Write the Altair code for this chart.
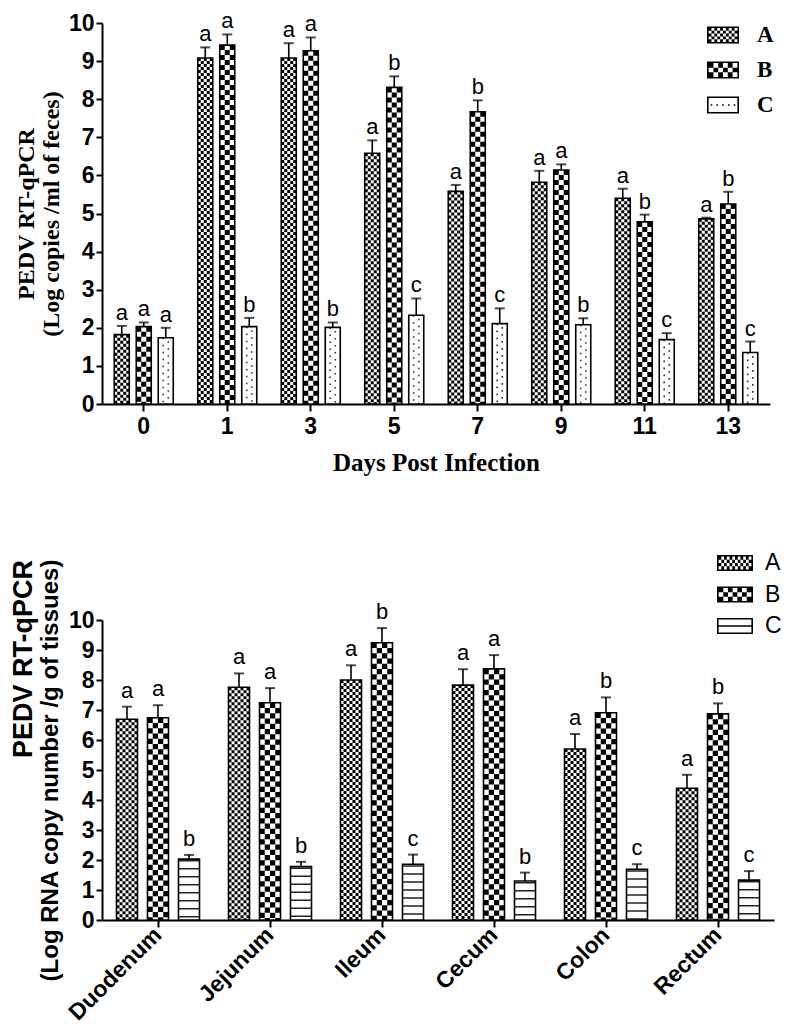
import altair as alt
import pandas as pd

# ---------------- data ----------------
groups = ["A", "B", "C"]

days = ["0", "1", "3", "5", "7", "9", "11", "13"]
feces_mean = {
    "A": [1.82, 9.08, 9.08, 6.58, 5.58, 5.82, 5.40, 4.86],
    "B": [2.03, 9.42, 9.27, 8.31, 7.67, 6.14, 4.78, 5.25],
    "C": [1.74, 2.03, 2.01, 2.33, 2.11, 2.08, 1.69, 1.35],
}
feces_sem = {
    "A": [0.23, 0.28, 0.39, 0.34, 0.17, 0.30, 0.25, 0.03],
    "B": [0.11, 0.28, 0.35, 0.29, 0.30, 0.15, 0.19, 0.32],
    "C": [0.26, 0.23, 0.13, 0.44, 0.40, 0.17, 0.17, 0.29],
}
feces_letters = {
    "A": ["a", "a", "a", "a", "a", "a", "a", "a"],
    "B": ["a", "a", "a", "b", "b", "a", "b", "b"],
    "C": ["a", "b", "b", "c", "c", "b", "c", "c"],
}

tissues = ["Duodenum", "Jejunum", "Ileum", "Cecum", "Colon", "Rectum"]
tissue_mean = {
    "A": [6.69, 7.76, 8.00, 7.83, 5.70, 4.39],
    "B": [6.74, 7.24, 9.24, 8.37, 6.91, 6.87],
    "C": [2.03, 1.78, 1.86, 1.30, 1.69, 1.33],
}
tissue_sem = {
    "A": [0.42, 0.46, 0.49, 0.53, 0.50, 0.45],
    "B": [0.42, 0.49, 0.49, 0.46, 0.51, 0.35],
    "C": [0.14, 0.16, 0.32, 0.28, 0.17, 0.30],
}
tissue_letters = {
    "A": ["a", "a", "a", "a", "a", "a"],
    "B": ["a", "a", "b", "a", "b", "b"],
    "C": ["b", "b", "c", "b", "c", "c"],
}
y_ticks = [0, 1, 2, 3, 4, 5, 6, 7, 8, 9, 10]


def long_df(cats, means, sems, letters):
    rows = []
    for g in groups:
        for c, m, s, l in zip(cats, means[g], sems[g], letters[g]):
            rows.append({"cat": c, "group": g, "mean": m, "top": m + s, "letter": l})
    return pd.DataFrame(rows)


df_top = long_df(days, feces_mean, feces_sem, feces_letters)
df_bot = long_df(tissues, tissue_mean, tissue_sem, tissue_letters)

SANS = "Liberation Sans"
SERIF = "Liberation Serif"


# ---------------- pattern helpers (styles) ----------------
def checker_cols(n, bar_w, color="black"):
    cell = bar_w / n
    return [((i + 0.5) / n, cell, [cell, cell], (i % 2) * cell, color) for i in range(n)]


def f(v):
    return f"{v:.3f}"


def rect(x0, y0, w, h):
    return f"M{f(x0)},{f(y0)}h{f(w)}v{f(h)}h{f(-w)}Z"


def frame(hw, hh, t):
    outer = f"M{f(-hw)},{f(-hh)}H{f(hw)}V{f(hh)}H{f(-hw)}Z"
    inner = f"M{f(-hw + t)},{f(-hh + t)}V{f(hh - t)}H{f(hw - t)}V{f(-hh + t)}Z"
    return outer + inner


def checker_path(hw, hh, t, ncols, nrows):
    p = frame(hw, hh, t)
    x0, y0 = -hw + t, -hh + t
    cw = (2 * hw - 2 * t) / ncols
    ch = (2 * hh - 2 * t) / nrows
    for i in range(ncols):
        for j in range(nrows):
            if (i + j) % 2 == 0:
                p += rect(x0 + i * cw, y0 + j * ch, cw, ch)
    return p


def dots_path(hw, hh, t, n, d):
    p = frame(hw, hh, t)
    inner_w = 2 * hw - 2 * t
    for i in range(n):
        cx = -hw + t + (i + 0.5) * inner_w / n
        p += rect(cx - d / 2, -d / 2, d, d)
    return p


def stripe_path(hw, hh, t):
    return frame(hw, hh, t) + rect(-hw + t, -t / 2, 2 * hw - 2 * t, t)


# ---------------- panel builder ----------------
def panel(df, cats, width, height, bar_w, gap, patterns, x_axis, y_axis,
          legend, shape_paths, cap_size, text_size, text_dy, title=None):
    step = width / len(cats)
    step_o = bar_w + gap
    p_i = gap / step_o
    p_o = (step / step_o - 3 + p_i) / 2

    xs = alt.X("cat:N", sort=cats, scale=alt.Scale(paddingInner=0, paddingOuter=0), axis=x_axis)
    xo_scale = alt.Scale(domain=groups, paddingInner=p_i, paddingOuter=p_o)
    y_scale = alt.Scale(domain=[0, 10], nice=False)

    def ys(field):
        return alt.Y(f"{field}:Q", scale=y_scale, axis=y_axis)

    xo = alt.XOffset("group:N", scale=xo_scale)

    base = alt.Chart(df)
    layers = [base.mark_bar(fill="white", strokeWidth=0).encode(x=xs, xOffset=xo, y=ys("mean"))]

    for k, g in enumerate(groups):
        bar_start = p_o * step_o + k * step_o  # pixel start of this group's bar inside its band
        for frac, sw, dash, off, color in patterns[g]:
            layers.append(
                base.transform_filter(alt.datum.group == g)
                .mark_rule(strokeWidth=sw, strokeDash=dash, strokeDashOffset=off, color=color)
                .encode(x=xs,
                        xOffset=alt.XOffsetValue(bar_start + frac * bar_w),
                        y=ys("mean"), y2=alt.Y2Datum(0))
            )

    layers.append(base.mark_bar(fillOpacity=0, stroke="black", strokeWidth=1.6)
                  .encode(x=xs, xOffset=xo, y=ys("mean")))
    layers.append(base.mark_rule(color="black", strokeWidth=1.6)
                  .encode(x=xs, xOffset=xo, y=ys("mean"), y2="top:Q"))
    layers.append(base.mark_tick(color="black", thickness=2, size=cap_size)
                  .encode(x=xs, xOffset=xo, y=ys("top")))
    layers.append(base.mark_text(baseline="bottom", dy=text_dy, font=SANS, fontSize=text_size, color="black")
                  .encode(x=xs, xOffset=xo, y=ys("top"), text="letter:N"))
    layers.append(base.mark_point(filled=True, size=0, opacity=1, color="black", strokeWidth=0)
                  .encode(x=xs, y=ys("mean"),
                          shape=alt.Shape("group:N", scale=alt.Scale(domain=groups, range=shape_paths),
                                          legend=legend)))
    props = dict(width=width, height=height)
    if title is not None:
        props["title"] = title
    return alt.layer(*layers).properties(**props)


# ---------------- top panel ----------------
TOP_W, TOP_BAR, TOP_GAP = 668, 15, 7
top_patterns = {
    "A": checker_cols(5, TOP_BAR),
    "B": checker_cols(3, TOP_BAR),
    "C": [(0.33, 1.6, [1.6, 5.4], 0, "#333333"), (0.67, 1.6, [1.6, 5.4], 3.5, "#333333")],
}
top_shapes = [
    checker_path(1, 0.53, 0.1, 10, 5),
    checker_path(1, 0.53, 0.1, 6, 3),
    dots_path(1, 0.53, 0.1, 5, 0.1),
]
top = panel(
    df_top, days, TOP_W, 381, TOP_BAR, TOP_GAP, top_patterns,
    x_axis=alt.Axis(title="Days Post Infection", titleFont=SERIF, titleFontSize=25, titleFontWeight="bold",
                    labelFont=SANS, labelFontSize=23, labelFontWeight="bold", labelAngle=0,
                    tickSize=7, labelPadding=4, titlePadding=12),
    y_axis=alt.Axis(values=y_ticks, tickCount=len(y_ticks) + 1,
                    title=["PEDV RT-qPCR", "(Log copies /ml of feces)"],
                    titleFont=SERIF, titleFontSize=24, titleFontWeight="bold", titleLineHeight=25,
                    labelFont=SANS, labelFontSize=23, labelFontWeight="bold", labelOverlap=False,
                    tickSize=6, labelPadding=2, titlePadding=5),
    legend=alt.Legend(title=None, orient="none", legendX=605, legendY=-4, padding=0,
                      symbolSize=1024, symbolStrokeWidth=0, labelFont=SERIF, labelFontSize=23,
                      labelFontWeight="bold", labelOffset=18, rowPadding=7, labelColor="black"),
    shape_paths=top_shapes, cap_size=10, text_size=22, text_dy=-1,
)

# ---------------- bottom panel ----------------
BOT_W, BOT_BAR, BOT_GAP = 672, 21, 10
bot_patterns = {
    "A": checker_cols(7, BOT_BAR),
    "B": checker_cols(4, BOT_BAR),
    "C": [(0.5, BOT_BAR, [1.5, 6.5], 7, "#222222")],
}
bot_shapes = [
    checker_path(1, 0.45, 0.09, 12, 4),
    checker_path(1, 0.45, 0.09, 7, 3),
    stripe_path(1, 0.45, 0.09),
]
bottom = panel(
    df_bot, tissues, BOT_W, 300, BOT_BAR, BOT_GAP, bot_patterns,
    x_axis=alt.Axis(title=None, labelFont=SANS, labelFontSize=23, labelFontWeight="bold",
                    labelAngle=-45, labelAlign="right", labelBaseline="middle",
                    tickSize=7, labelPadding=4),
    y_axis=alt.Axis(values=y_ticks, tickCount=len(y_ticks) + 1,
                    title="(Log RNA copy number /g of tissues)",
                    titleFont=SANS, titleFontSize=24, titleFontWeight="bold",
                    labelFont=SANS, labelFontSize=23, labelFontWeight="bold", labelOverlap=False,
                    tickSize=6, labelPadding=2, titlePadding=6),
    legend=alt.Legend(title=None, orient="none", legendX=615, legendY=-75, padding=0,
                      symbolSize=1296, symbolStrokeWidth=0, labelFont=SANS, labelFontSize=23,
                      labelOffset=12, rowPadding=1.5, labelColor="black"),
    shape_paths=bot_shapes, cap_size=10, text_size=22, text_dy=-4,
    title=alt.TitleParams("PEDV RT-qPCR", orient="left", anchor="end", frame="group", dx=60,
                          font=SANS, fontSize=27, fontWeight="bold", offset=0, color="black"),
)

chart = (
    alt.vconcat(top, bottom, spacing=216, bounds="flush")
    .resolve_scale(shape="independent", xOffset="independent", x="independent", y="independent")
    .resolve_legend(shape="independent")
    .configure_view(stroke=None)
    .configure_axis(domainColor="black", domainWidth=2, tickColor="black", tickWidth=2,
                    grid=False, labelColor="black", titleColor="black", labelOverlap=False)
    .properties(padding={"top": 2, "left": 2, "right": 0, "bottom": 0})
)

chart.save("out.html", embed_options={"renderer": "svg", "actions": False})
